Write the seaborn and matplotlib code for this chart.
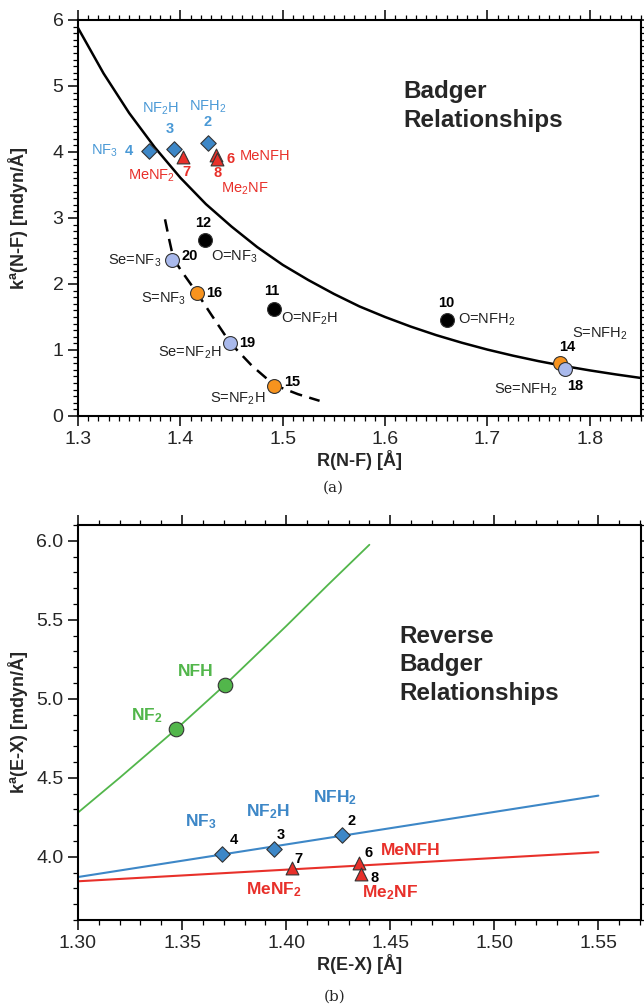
import matplotlib
matplotlib.use("Agg")
import matplotlib.pyplot as plt
from matplotlib.ticker import MultipleLocator, FormatStrFormatter
import seaborn as sns

# ---- data: panel (a), Badger relationships ----
diamond_ids = ["4", "3", "2"]
diamond_names = ["NF$_3$", "NF$_2$H", "NFH$_2$"]
diamond_r = [1.369, 1.394, 1.427]
diamond_k = [4.02, 4.05, 4.14]

tri_ids = ["7", "6", "8"]
tri_names = ["MeNF$_2$", "MeNFH", "Me$_2$NF"]
tri_r = [1.403, 1.435, 1.436]
tri_k = [3.93, 3.96, 3.89]

oxo_ids = ["12", "11", "10"]
oxo_names = ["O=NF$_3$", "O=NF$_2$H", "O=NFH$_2$"]
oxo_r = [1.424, 1.491, 1.660]
oxo_k = [2.67, 1.62, 1.45]

thio_ids = ["16", "15", "14"]
thio_names = ["S=NF$_3$", "S=NF$_2$H", "S=NFH$_2$"]
thio_r = [1.4165, 1.4916, 1.7707]
thio_k = [1.86, 0.455, 0.81]

seleno_ids = ["20", "19", "18"]
seleno_names = ["Se=NF$_3$", "Se=NF$_2$H", "Se=NFH$_2$"]
seleno_r = [1.3916, 1.4486, 1.7759]
seleno_k = [2.37, 1.10, 0.71]

# curves
badger_r = [1.300, 1.325, 1.350, 1.375, 1.400, 1.425, 1.450, 1.475, 1.500, 1.525,
            1.550, 1.575, 1.600, 1.625, 1.650, 1.675, 1.700, 1.725, 1.750, 1.775,
            1.800, 1.825, 1.850]
badger_k = [5.88, 5.19, 4.59, 4.07, 3.61, 3.21, 2.87, 2.56, 2.29, 2.06,
            1.85, 1.66, 1.50, 1.355, 1.225, 1.11, 1.006, 0.914, 0.831, 0.757,
            0.691, 0.631, 0.576]
dashed_r = [1.385, 1.389, 1.393, 1.400, 1.4165, 1.430, 1.4486, 1.470, 1.4916, 1.515, 1.536]
dashed_k = [2.98, 2.68, 2.40, 2.22, 1.86, 1.54, 1.11, 0.76, 0.47, 0.33, 0.23]

# ---- data: panel (b), reverse Badger relationships ----
nfx_ids = ["NF$_\\mathbf{2}$", "NFH"]
nfx_r = [1.347, 1.3706]
nfx_k = [4.806, 5.088]
green_r = [1.30, 1.32, 1.347, 1.3706, 1.40, 1.42, 1.44]
green_k = [4.28, 4.50, 4.806, 5.088, 5.46, 5.72, 5.975]
blue_r = [1.30, 1.55]
blue_k = [3.872, 4.387]
red_r = [1.30, 1.55]
red_k = [3.845, 4.029]
rev_blue_names = ["NF$_\\mathbf{3}$", "NF$_\\mathbf{2}$H", "NFH$_\\mathbf{2}$"]
rev_red_names = ["MeNF$_\\mathbf{2}$", "MeNFH", "Me$_\\mathbf{2}$NF"]

# ---- style ----
sns.set_style("ticks")
plt.rcParams["font.family"] = ["Liberation Sans", "DejaVu Sans"]
plt.rcParams["mathtext.fontset"] = "custom"
plt.rcParams["mathtext.rm"] = "Liberation Sans"
plt.rcParams["mathtext.it"] = "Liberation Sans:italic"
plt.rcParams["mathtext.bf"] = "Liberation Sans:bold"

BLUE = "#3d87c7"
BLUE_TXT = "#4a99d6"
RED = "#e8302a"
ORANGE = "#f7931e"
LAVENDER = "#a9b9ec"
GREEN = "#52b64b"
EDGE = "#333333"

# label offsets in points (name offset, number offset)
off_a = {
    "4": ((-32, 0), (-14, 0)), "3": ((-10, 29), (-3, 14)), "2": ((0, 26), (0, 15)),
    "7": ((-23, -14), (2, -11)), "6": ((35, -1), (10, -3)), "8": ((20, -21), (0, -10)),
    "12": ((21, -12), (-1, 12)), "11": ((26, -7), (-1, 13)), "10": ((29, 0), (0, 12.5)),
    "16": ((-24, -4), (12, 0)), "15": ((-26, -9), (13, 3)), "14": ((29, 21), (5, 11)),
    "20": ((-27, -1), (13, 2.5)), "19": ((-29, -7), (12.5, 0.5)), "18": ((-28, -15), (7.5, -12)),
}
off_b = {
    "4": ((-15, 23), (9, 10)), "3": ((-4, 27), (5, 10)), "2": ((-5, 27), (6.5, 9.5)),
    "7": ((-13, -16), (4.5, 6.5)), "6": ((37, 9), (7, 7.5)), "8": ((21, -13), (9.5, -2.5)),
}

fig = plt.figure(figsize=(6.44, 10.06), dpi=100)
ax1 = fig.add_axes([78 / 644, 1 - 416 / 1006, 563 / 644, 396 / 1006])
ax2 = fig.add_axes([78 / 644, 1 - 920 / 1006, 563 / 644, 395 / 1006])


def style_axes(ax):
    for s in ax.spines.values():
        s.set_linewidth(1.5)
        s.set_color("black")
    ax.tick_params(which="both", direction="out", top=True, right=True,
                   labelsize=14, color="black", width=1.1)
    ax.tick_params(which="major", length=7)
    ax.tick_params(which="minor", length=3.5, width=0.9)
    ax.yaxis.set_label_coords(-0.085, 0.5)


def label(ax, x, y, text, off, color, size, weight):
    ax.annotate(text, (x, y), xytext=off, textcoords="offset points",
                ha="center", va="center", color=color, fontsize=size,
                fontweight=weight)


# ---------- panel (a) ----------
sns.lineplot(x=badger_r, y=badger_k, ax=ax1, color="black", lw=1.8,
             sort=False, estimator=None)
sns.lineplot(x=dashed_r, y=dashed_k, ax=ax1, color="black", lw=1.8,
             sort=False, estimator=None)
ax1.lines[-1].set_dashes((5, 3))

groups_a = [
    (diamond_r, diamond_k, diamond_ids, diamond_names, "D", 62, BLUE, BLUE_TXT, BLUE_TXT),
    (tri_r, tri_k, tri_ids, tri_names, "^", 85, RED, RED, RED),
    (oxo_r, oxo_k, oxo_ids, oxo_names, "o", 100, "black", "#222222", "black"),
    (thio_r, thio_k, thio_ids, thio_names, "o", 100, ORANGE, "#222222", "black"),
    (seleno_r, seleno_k, seleno_ids, seleno_names, "o", 100, LAVENDER, "#222222", "black"),
]
for r, k, ids, names, mk, s, fc, name_c, num_c in groups_a:
    sns.scatterplot(x=r, y=k, ax=ax1, marker=mk, s=s, color=fc,
                    edgecolor=EDGE, linewidth=0.8, zorder=3)
    for xi, yi, i, n in zip(r, k, ids, names):
        label(ax1, xi, yi, n, off_a[i][0], name_c, 10.5, "normal")
        label(ax1, xi, yi, i, off_a[i][1], num_c, 10.5, "bold")

ax1.text(1.618, 4.70, "Badger\nRelationships", fontsize=17.5, fontweight="bold",
         ha="left", va="center", linespacing=1.3)
ax1.set_xlim(1.3, 1.85)
ax1.set_ylim(0, 6)
ax1.xaxis.set_major_locator(MultipleLocator(0.1))
ax1.xaxis.set_minor_locator(MultipleLocator(0.01))
ax1.yaxis.set_major_locator(MultipleLocator(1))
ax1.yaxis.set_minor_locator(MultipleLocator(0.1))
ax1.xaxis.set_major_formatter(FormatStrFormatter("%.1f"))
ax1.set_xlabel("R(N-F) [Å]", fontsize=13, fontweight="bold", labelpad=2)
ax1.set_ylabel("k$^\\mathbf{a}$(N-F) [mdyn/Å]", fontsize=13, fontweight="bold")
style_axes(ax1)

# ---------- panel (b) ----------
sns.lineplot(x=green_r, y=green_k, ax=ax2, color=GREEN, lw=1.3, sort=False, estimator=None)
sns.lineplot(x=blue_r, y=blue_k, ax=ax2, color=BLUE, lw=1.5, sort=False, estimator=None)
sns.lineplot(x=red_r, y=red_k, ax=ax2, color=RED, lw=1.5, sort=False, estimator=None)

sns.scatterplot(x=nfx_r, y=nfx_k, ax=ax2, marker="o", s=110, color=GREEN,
                edgecolor=EDGE, linewidth=0.8, zorder=3)
for xi, yi, n in zip(nfx_r, nfx_k, nfx_ids):
    label(ax2, xi, yi, n, (-21, 10), GREEN, 12.5, "bold")

for r, k, ids, names, mk, s, fc in [
    (diamond_r, diamond_k, diamond_ids, rev_blue_names, "D", 62, BLUE),
    (tri_r, tri_k, tri_ids, rev_red_names, "^", 85, RED),
]:
    sns.scatterplot(x=r, y=k, ax=ax2, marker=mk, s=s, color=fc,
                    edgecolor=EDGE, linewidth=0.8, zorder=3)
    for xi, yi, i, n in zip(r, k, ids, names):
        label(ax2, xi, yi, n, off_b[i][0], fc, 12.5, "bold")
        label(ax2, xi, yi, i, off_b[i][1], "black", 10.5, "bold")

ax2.text(1.4545, 5.215, "Reverse\nBadger\nRelationships", fontsize=17.5,
         fontweight="bold", ha="left", va="center", linespacing=1.3)
ax2.set_xlim(1.30, 1.5705)
ax2.set_ylim(3.6, 6.1)
ax2.xaxis.set_major_locator(MultipleLocator(0.05))
ax2.xaxis.set_minor_locator(MultipleLocator(0.01))
ax2.yaxis.set_major_locator(MultipleLocator(0.5))
ax2.yaxis.set_minor_locator(MultipleLocator(0.1))
ax2.xaxis.set_major_formatter(FormatStrFormatter("%.2f"))
ax2.yaxis.set_major_formatter(FormatStrFormatter("%.1f"))
ax2.set_xlabel("R(E-X) [Å]", fontsize=13, fontweight="bold", labelpad=2)
ax2.set_ylabel("k$^\\mathbf{a}$(E-X) [mdyn/Å]", fontsize=13, fontweight="bold")
style_axes(ax2)

fig.text(0.518, 1 - 488 / 1006, "(a)", ha="center", va="center",
         fontsize=11, family="DejaVu Serif")
fig.text(0.52, 1 - 997 / 1006, "(b)", ha="center", va="center",
         fontsize=11, family="DejaVu Serif")

fig.savefig("out.png", dpi=100)
